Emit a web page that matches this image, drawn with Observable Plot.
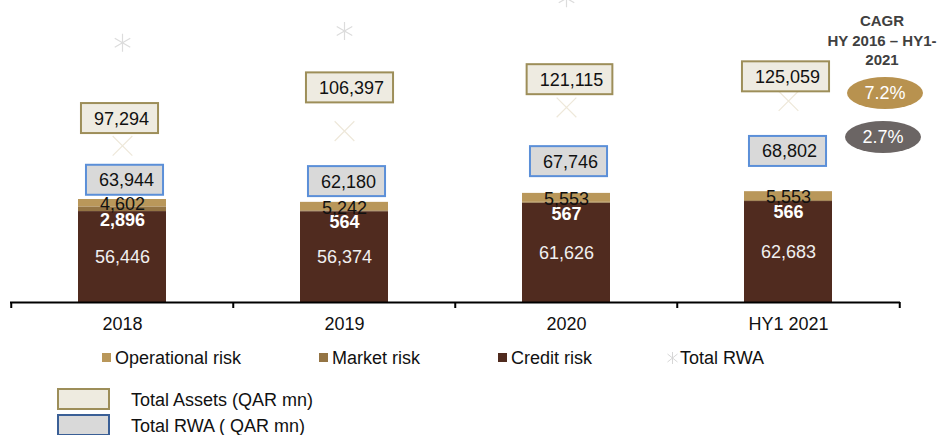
<!DOCTYPE html>
<html>
<head>
<meta charset="utf-8">
<script src="https://cdn.jsdelivr.net/npm/d3@7"></script>
<script src="https://cdn.jsdelivr.net/npm/@observablehq/plot@0.6"></script>
<style>
  body { margin: 0; background: #fff; font-family: "Liberation Sans", Arial, sans-serif; color: #111; }
  #wrap { position: relative; width: 938px; height: 435px; overflow: hidden; }
  #chart { position: absolute; left: 0; top: 0; }
  .abs { position: absolute; white-space: nowrap; }
  .cagr { left: 802px; top: 11px; width: 160px; text-align: center; font-weight: bold; font-size: 15px; line-height: 19.5px; color: #404040; }
  .pill { width: 76px; height: 32px; border-radius: 50%; color: #fff; font-size: 18px; line-height: 32px; text-align: center; }
  .lg { font-size: 18px; line-height: 18px; color: #111; }
  .sw { position: absolute; width: 9px; height: 9px; }
  .bx { position: absolute; width: 49px; height: 18px; border: 2px solid; }
</style>
</head>
<body>
<div id="wrap">
  <div id="chart"></div>
</div>
<script>
// ---- data ----
const categories = ["2018", "2019", "2020", "HY1 2021"];
const creditRisk = [56446, 56374, 61626, 62683];
const marketRisk = [2896, 564, 567, 566];
const operationalRisk = [4602, 5242, 5553, 5553];
const totalRwa = [63944, 62180, 67746, 68802];
const totalAssets = [97294, 106397, 121115, 125059];
const riskTypes = ["Credit risk", "Market risk", "Operational risk"];
const riskColors = ["#502b1f", "#947444", "#b9975a"];
const cagrLabels = ["7.2%", "2.7%"];

// label nudges (hand-placed labels in the original)
const assetsNudge = [[-1, -27], [7, -43], [5, -27.5], [-1, -24]];
const rwaNudge = [[4, -19], [4, -20.5], [4, -31.5], [1, -40]];

// ---- tables ----
const table = categories.map((cat, i) => ({
  cat, credit: creditRisk[i], market: marketRisk[i], operational: operationalRisk[i],
  rwa: totalRwa[i], assets: totalAssets[i]
}));
const stackRows = [];
table.forEach(d => {
  stackRows.push({cat: d.cat, type: riskTypes[0], value: d.credit});
  stackRows.push({cat: d.cat, type: riskTypes[1], value: d.market});
  stackRows.push({cat: d.cat, type: riskTypes[2], value: d.operational});
});

const fmt = d3.format(",");
const W = 938, H = 340, ML = 10, MR = 38, MB = 38;
const bw = (W - ML - MR) / categories.length;

const marks = [
  Plot.barY(stackRows, {x: "cat", y: "value", fill: "type", insetLeft: 67, insetRight: 67}),
  Plot.dot(table, {x: "cat", y: "assets", symbol: "times", r: 9, stroke: "#eee8da", strokeWidth: 1.2}),
  Plot.dot(table, {x: "cat", y: d => d.assets + d.rwa, symbol: "asterisk", r: 8.5, stroke: "#dcdcdc", strokeWidth: 1.2}),
  Plot.text(table, {x: "cat", y: d => d.credit / 2, text: d => fmt(d.credit), fill: "#f0f0f0", fontSize: 18}),
  Plot.text(table, {x: "cat", y: d => d.credit + d.market / 2, text: d => fmt(d.market), fill: "#ffffff", fontSize: 18, fontWeight: "bold", dy: 11}),
  Plot.text(table, {x: "cat", y: d => d.credit + d.market + d.operational / 2, text: d => fmt(d.operational), fill: "#111", fontSize: 18, dy: 1.5}),
  ...table.map((d, i) => Plot.text([d], {x: "cat", y: "assets", text: v => fmt(v.assets), fill: "#111", fontSize: 18, dx: assetsNudge[i][0], dy: assetsNudge[i][1]})),
  ...table.map((d, i) => Plot.text([d], {x: "cat", y: "rwa", text: v => fmt(v.rwa), fill: "#111", fontSize: 18, dx: rwaNudge[i][0], dy: rwaNudge[i][1]})),
  Plot.ruleY([0], {stroke: "#000", strokeWidth: 2}),
  Plot.ruleX(categories, {x: d => d, dx: -bw / 2, y1: 0, y2: 0, insetBottom: -6, stroke: "#000", strokeWidth: 2}),
  Plot.ruleX(categories.slice(-1), {x: d => d, dx: bw / 2, y1: 0, y2: 0, insetBottom: -6, stroke: "#000", strokeWidth: 2}),
  Plot.axisX({tickSize: 0, tickPadding: 15, fontSize: 18, fill: "#111"})
];

const plot = Plot.plot({
  width: W, height: H,
  marginTop: 0, marginLeft: ML, marginRight: MR, marginBottom: MB,
  x: {domain: categories, padding: 0, label: null},
  y: {domain: [0, 187500], axis: null},
  color: {domain: riskTypes, range: riskColors},
  style: {fontFamily: "'Liberation Sans', Arial, sans-serif", fontSize: "18px", background: "transparent"},
  marks
});
document.getElementById("chart").appendChild(plot);

// label boxes behind the total labels
const assetTexts = new Set(totalAssets.map(fmt));
const rwaTexts = new Set(totalRwa.map(fmt));
plot.querySelectorAll("text").forEach(t => {
  const s = t.textContent.trim();
  let fill, stroke;
  if (assetTexts.has(s)) { fill = "#eeebe1"; stroke = "#9d8e59"; }
  else if (rwaTexts.has(s)) { fill = "#d9d9d9"; stroke = "#5b8fd8"; }
  else return;
  const b = t.getBBox();
  const r = document.createElementNS("http://www.w3.org/2000/svg", "rect");
  const cy = b.y + b.height / 2 - 0.5;
  r.setAttribute("x", b.x - 13);
  r.setAttribute("y", cy - 15);
  r.setAttribute("width", b.width + 22);
  r.setAttribute("height", 30);
  r.setAttribute("fill", fill);
  r.setAttribute("stroke", stroke);
  r.setAttribute("stroke-width", 2);
  const tr = t.getAttribute("transform");
  if (tr) r.setAttribute("transform", tr);
  t.parentNode.insertBefore(r, t);
});

// ---- annotations & legend (HTML) ----
const wrap = document.getElementById("wrap");
function el(html) { const t = document.createElement("template"); t.innerHTML = html.trim(); wrap.appendChild(t.content.firstChild); }
el(`<div class="abs cagr">CAGR<br>HY 2016 – HY1-<br>2021</div>`);
el(`<div class="abs pill" style="left:847px;top:77px;background:#b8924f;">${cagrLabels[0]}</div>`);
el(`<div class="abs pill" style="left:845px;top:121px;background:#6b6564;">${cagrLabels[1]}</div>`);

// row 1 legend
const legendItems = [
  {label: riskTypes[2], color: riskColors[2], sx: 102, tx: 115},
  {label: riskTypes[1], color: riskColors[1], sx: 319, tx: 332},
  {label: riskTypes[0], color: riskColors[0], sx: 498, tx: 511}
];
legendItems.forEach(it => {
  el(`<div class="sw" style="left:${it.sx}px;top:353px;background:${it.color};"></div>`);
  el(`<div class="abs lg" style="left:${it.tx}px;top:349px;">${it.label}</div>`);
});
el(`<svg class="abs" style="left:667px;top:352px;" width="11" height="12"><g stroke="#d6d6d6" stroke-width="1"><line x1="5.5" y1="0" x2="5.5" y2="12"/><line x1="0.5" y1="2" x2="10.5" y2="10"/><line x1="0.5" y1="10" x2="10.5" y2="2"/></g></svg>`);
el(`<div class="abs lg" style="left:680px;top:349px;">Total RWA</div>`);

// rows 2-3 legend
el(`<div class="bx" style="left:57px;top:388px;background:#eeebe0;border-color:#9d8e59;"></div>`);
el(`<div class="abs lg" style="left:131px;top:391px;">Total Assets (QAR mn)</div>`);
el(`<div class="bx" style="left:57px;top:414px;background:#d9d9d9;border-color:#3a5f96;"></div>`);
el(`<div class="abs lg" style="left:131px;top:417px;">Total RWA ( QAR mn)</div>`);
</script>
</body>
</html>
